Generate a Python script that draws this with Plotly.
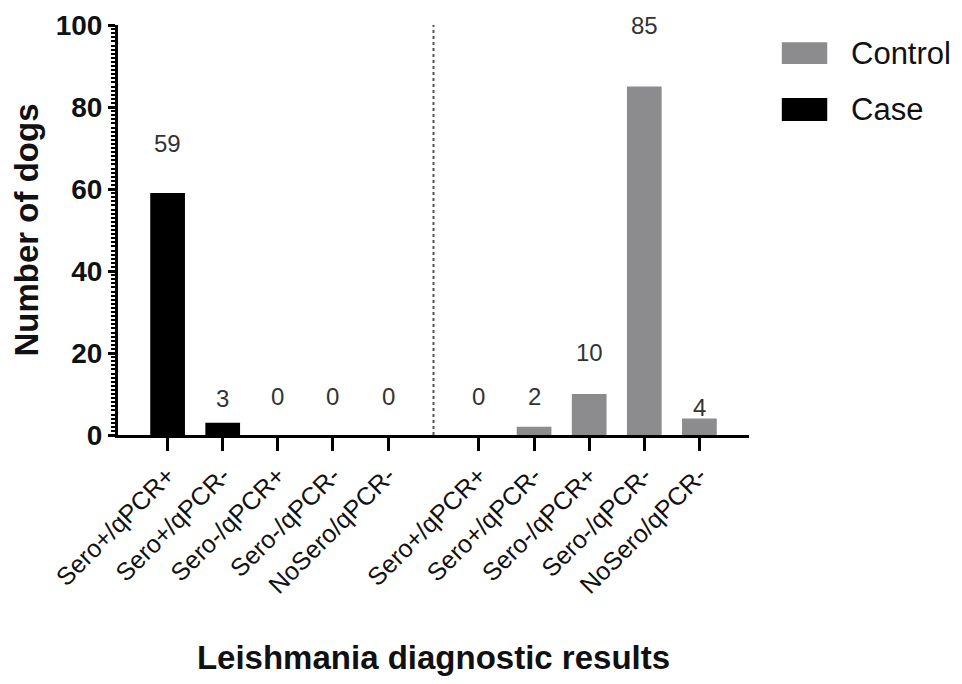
import plotly.graph_objects as go

categories = ["Sero+/qPCR+", "Sero+/qPCR-", "Sero-/qPCR+", "Sero-/qPCR-", "NoSero/qPCR-"]
case_values = [59, 3, 0, 0, 0]
control_values = [0, 2, 10, 85, 4]
y_ticks = [0, 20, 40, 60, 80, 100]
# label heights (layout only), in axis units
case_label_y = [71.2, 9.0, 9.3, 9.3, 9.3]
control_label_y = [9.3, 9.3, 20.2, 100.0, 6.6]

GAP = 0.65
n = len(categories)
case_x = [i for i in range(n)]
control_x = [i + n + GAP for i in range(n)]
divider_x = (case_x[-1] + control_x[0]) / 2

FONT = "Arial, Liberation Sans, sans-serif"
CASE_COLOR = "#000000"
CONTROL_COLOR = "#8c8c8e"

fig = go.Figure()
fig.add_trace(go.Bar(x=case_x, y=case_values, name="Case", width=0.63,
                     marker=dict(color=CASE_COLOR, line=dict(width=0)), showlegend=False))
fig.add_trace(go.Bar(x=control_x, y=control_values, name="Control", width=0.63,
                     marker=dict(color=CONTROL_COLOR, line=dict(width=0)), showlegend=False))

for xs, vals, ly in [(case_x, case_values, case_label_y), (control_x, control_values, control_label_y)]:
    for x, v, y in zip(xs, vals, ly):
        fig.add_annotation(x=x, y=y, text=str(v), showarrow=False,
                           font=dict(family=FONT, size=24, color="#333333"))

fig.add_shape(type="line", x0=divider_x, x1=divider_x, y0=0, y1=100, xref="x", yref="y",
              line=dict(color="#555555", width=2, dash="dot"))

# legend (drawn manually to match the large swatches)
legend_items = [("Control", CONTROL_COLOR, 0.958, 0.905), ("Case", CASE_COLOR, 0.822, 0.766)]
for name, color, y1, y0 in legend_items:
    fig.add_shape(type="rect", xref="paper", yref="paper", x0=1.052, x1=1.124, y0=y0, y1=y1,
                  fillcolor=color, line=dict(width=0))
    fig.add_annotation(xref="paper", yref="paper", x=1.158, y=(y0 + y1) / 2, text=name,
                       showarrow=False, xanchor="left", yanchor="middle",
                       font=dict(family=FONT, size=31, color="#111111"))

# page body has an 8px default margin; size the figure to fit the 962x684 window
fig.update_layout(
    width=946, height=668,
    margin=dict(l=110, r=205, t=17, b=241, autoexpand=False),
    plot_bgcolor="white", paper_bgcolor="white",
    barmode="overlay",
    font=dict(family=FONT, color="#000000"),
    showlegend=False,
)
fig.update_xaxes(
    range=[-0.9, control_x[-1] + 0.9], automargin=False,
    tickvals=case_x + control_x, ticktext=categories + categories,
    tickangle=-45, ticks="outside", ticklen=13, tickwidth=3, tickcolor="black",
    tickfont=dict(family=FONT, size=25, color="#111111"),
    showline=True, linewidth=3, linecolor="black", showgrid=False, zeroline=False,
    title=dict(text="Leishmania diagnostic results", standoff=50,
               font=dict(family=FONT, size=33, color="#111111", weight="bold")),
)
fig.update_yaxes(
    range=[0, 100], tickvals=y_ticks, automargin=False,
    ticks="outside", ticklen=7, tickwidth=3, tickcolor="black",
    minor=dict(dtick=1, ticks="outside", ticklen=4, tickwidth=1.5, tickcolor="black"),
    tickfont=dict(family=FONT, size=28, color="#111111", weight="bold"),
    showline=True, linewidth=3, linecolor="black", showgrid=False, zeroline=False,
    title=dict(text="Number of dogs", standoff=9,
               font=dict(family=FONT, size=33, color="#111111", weight="bold")),
)

fig.write_html("out.html")
